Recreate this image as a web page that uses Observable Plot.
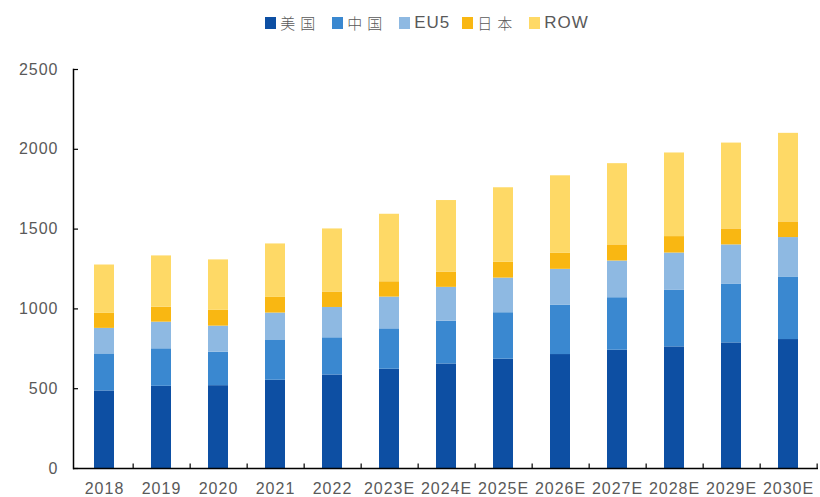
<!DOCTYPE html>
<html>
<head>
<meta charset="utf-8">
<script src="https://cdn.jsdelivr.net/npm/d3@7"></script>
<script src="https://cdn.jsdelivr.net/npm/@observablehq/plot@0.6"></script>
<style>
  body { margin: 0; background: #fff; font-family: "Liberation Sans", Arial, sans-serif; }
  #legend { height: 40px; display: flex; justify-content: center; align-items: center; gap: 12px; font-size: 17px; color: #595959; padding-left: 34px; padding-top: 5px; box-sizing: border-box; }
  #legend .item { display: flex; align-items: center; gap: 4px; }
  #legend .sw { width: 11px; height: 12px; display: inline-block; }
  #legend .lat { letter-spacing: 1px; }
  #legend .cjk { font-family: "Noto Sans CJK SC", sans-serif; font-size: 15px; letter-spacing: 5px; font-weight: 300; }
</style>
</head>
<body>
<div id="legend"></div>
<div id="chart"></div>
<script>
const years = ["2018","2019","2020","2021","2022","2023E","2024E","2025E","2026E","2027E","2028E","2029E","2030E"];
const seriesNames = ["美国","中国","EU5","日本","ROW"];
const colors = ["#0D4FA3","#3A88D0","#8EB9E2","#F9B712","#FED966"];
const us    = [486,515,519,553,586,622,655,685,714,741,762,787,808];
const china = [232,235,210,249,233,253,268,291,310,329,354,369,392];
const eu5   = [160,167,163,172,190,199,212,217,224,230,234,245,247];
const japan = [94, 94, 99, 98, 97, 96, 96, 99, 100,101,103,100,98];
const row   = [303,321,316,335,395,423,448,467,486,509,524,538,555];
const yTicks = [0,500,1000,1500,2000,2500];

const seriesValues = [us, china, eu5, japan, row];
const data = [];
years.forEach((yr, i) => {
  seriesNames.forEach((s, j) => data.push({year: yr, series: s, value: seriesValues[j][i]}));
});

// legend
const leg = document.getElementById("legend");
seriesNames.forEach((s, j) => {
  const it = document.createElement("span");
  it.className = "item";
  const sw = document.createElement("span");
  sw.className = "sw";
  sw.style.background = colors[j];
  const tx = document.createElement("span");
  tx.textContent = s;
  tx.className = /[\u4e00-\u9fff]/.test(s) ? "cjk" : "lat";
  it.appendChild(sw); it.appendChild(tx);
  leg.appendChild(it);
});

const W = 820, H = 457;
const mL = 73, mR = 2, mT = 29, mB = 29;
const step = (W - mL - mR) / years.length;
const frameH = H - mT - mB;

const chart = Plot.plot({
  width: W,
  height: H,
  marginLeft: mL,
  marginRight: mR,
  marginTop: mT,
  marginBottom: mB,
  style: {fontFamily: "'Liberation Sans', Arial, sans-serif", fontSize: "16px", color: "#595959", background: "#fff", letterSpacing: "1px", overflow: "visible"},
  x: {domain: years, paddingInner: 0.65, paddingOuter: 0.325, label: null},
  y: {domain: [0, 2500], label: null},
  color: {domain: seriesNames, range: colors},
  marks: [
    Plot.barY(data, Plot.stackY({x: "year", y: "value", fill: "series", order: seriesNames})),
    Plot.axisY({ticks: yTicks, tickSize: 0, tickPadding: 15, fontSize: 16, fill: "#595959", tickFormat: d => String(d), label: null}),
    Plot.axisY({ticks: yTicks, tickSize: -5, tickFormat: () => "", stroke: "#000", strokeWidth: 1.2, label: null}),
    Plot.axisX({tickSize: 0, tickPadding: 14, fontSize: 16, fill: "#595959", label: null}),
    Plot.tickX(years, {x: d => d, insetTop: frameH - 4.5, dx: step / 2, stroke: "#000", strokeWidth: 1.2}),
    Plot.ruleY([0], {stroke: "#000", strokeWidth: 1.5}),
    Plot.frame({anchor: "left", stroke: "#000", strokeWidth: 1.5})
  ]
});
document.getElementById("chart").appendChild(chart);
</script>
</body>
</html>
